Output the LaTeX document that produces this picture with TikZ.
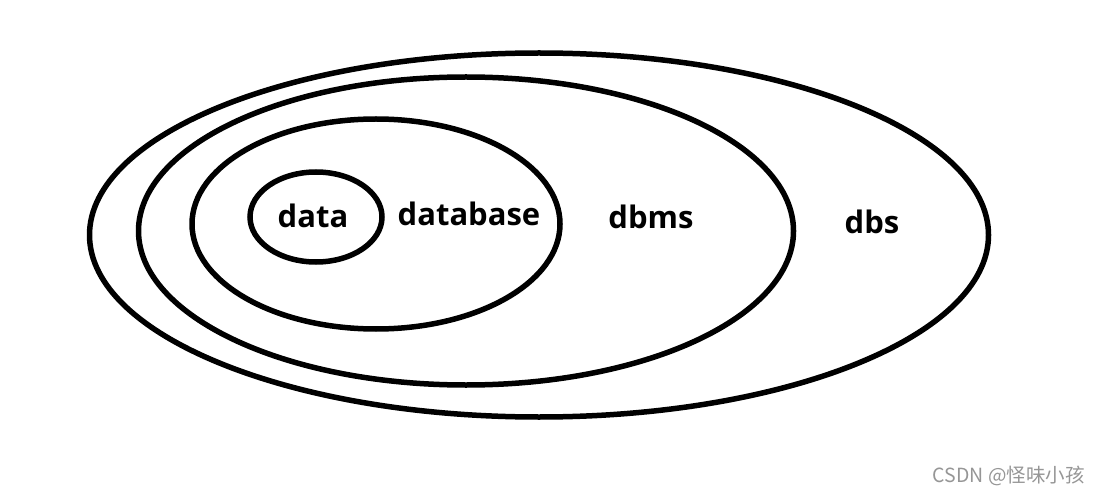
\documentclass[tikz,border=0pt]{standalone}
\usepackage{fontspec}
\setmainfont{Open Sans}
\newfontfamily\cjkfont{Noto Sans CJK SC}
\usepackage{tikz}
\usetikzlibrary{shapes.geometric}
\definecolor{ink}{RGB}{0,0,0}
\definecolor{markgrey}{RGB}{150,150,150}
\tikzset{
  ring/.style={draw=ink,ellipse,line width=5.5pt,inner sep=0pt,fill=none},
  lvl/.style={font=\fontsize{31}{34}\selectfont\bfseries,text=ink,inner sep=0pt},
  wmark/.style={font=\cjkfont\fontsize{19.5}{22}\selectfont,text=markgrey,inner sep=0pt},
}
\begin{document}
\begin{tikzpicture}[x=1pt,y=-1pt]
  \useasboundingbox (0,0) rectangle (1099,494);

  % inelele, de la cel mai mare spre cel mai mic
  \node[ring,minimum width=899,minimum height=364] (dbsring) at (539,235) {};
  \node[ring,minimum width=655,minimum height=308] (dbmsring) at (466,231) {};
  \node[ring,minimum width=368,minimum height=210] (dbring) at (376,224) {};
  \node[ring,minimum width=132,minimum height=90] (dataring) at (316,217) {};

  \node[lvl] (data) at (313,216) {data};
  \node[lvl] (database) at (469,214) {database};
  \node[lvl] (dbms) at (651,217) {dbms};
  \node[lvl] (dbs) at (872,222) {dbs};

  \node[wmark,anchor=east] (wm) at (1085,476) {CSDN @怪味小孩};
\end{tikzpicture}
\end{document}
